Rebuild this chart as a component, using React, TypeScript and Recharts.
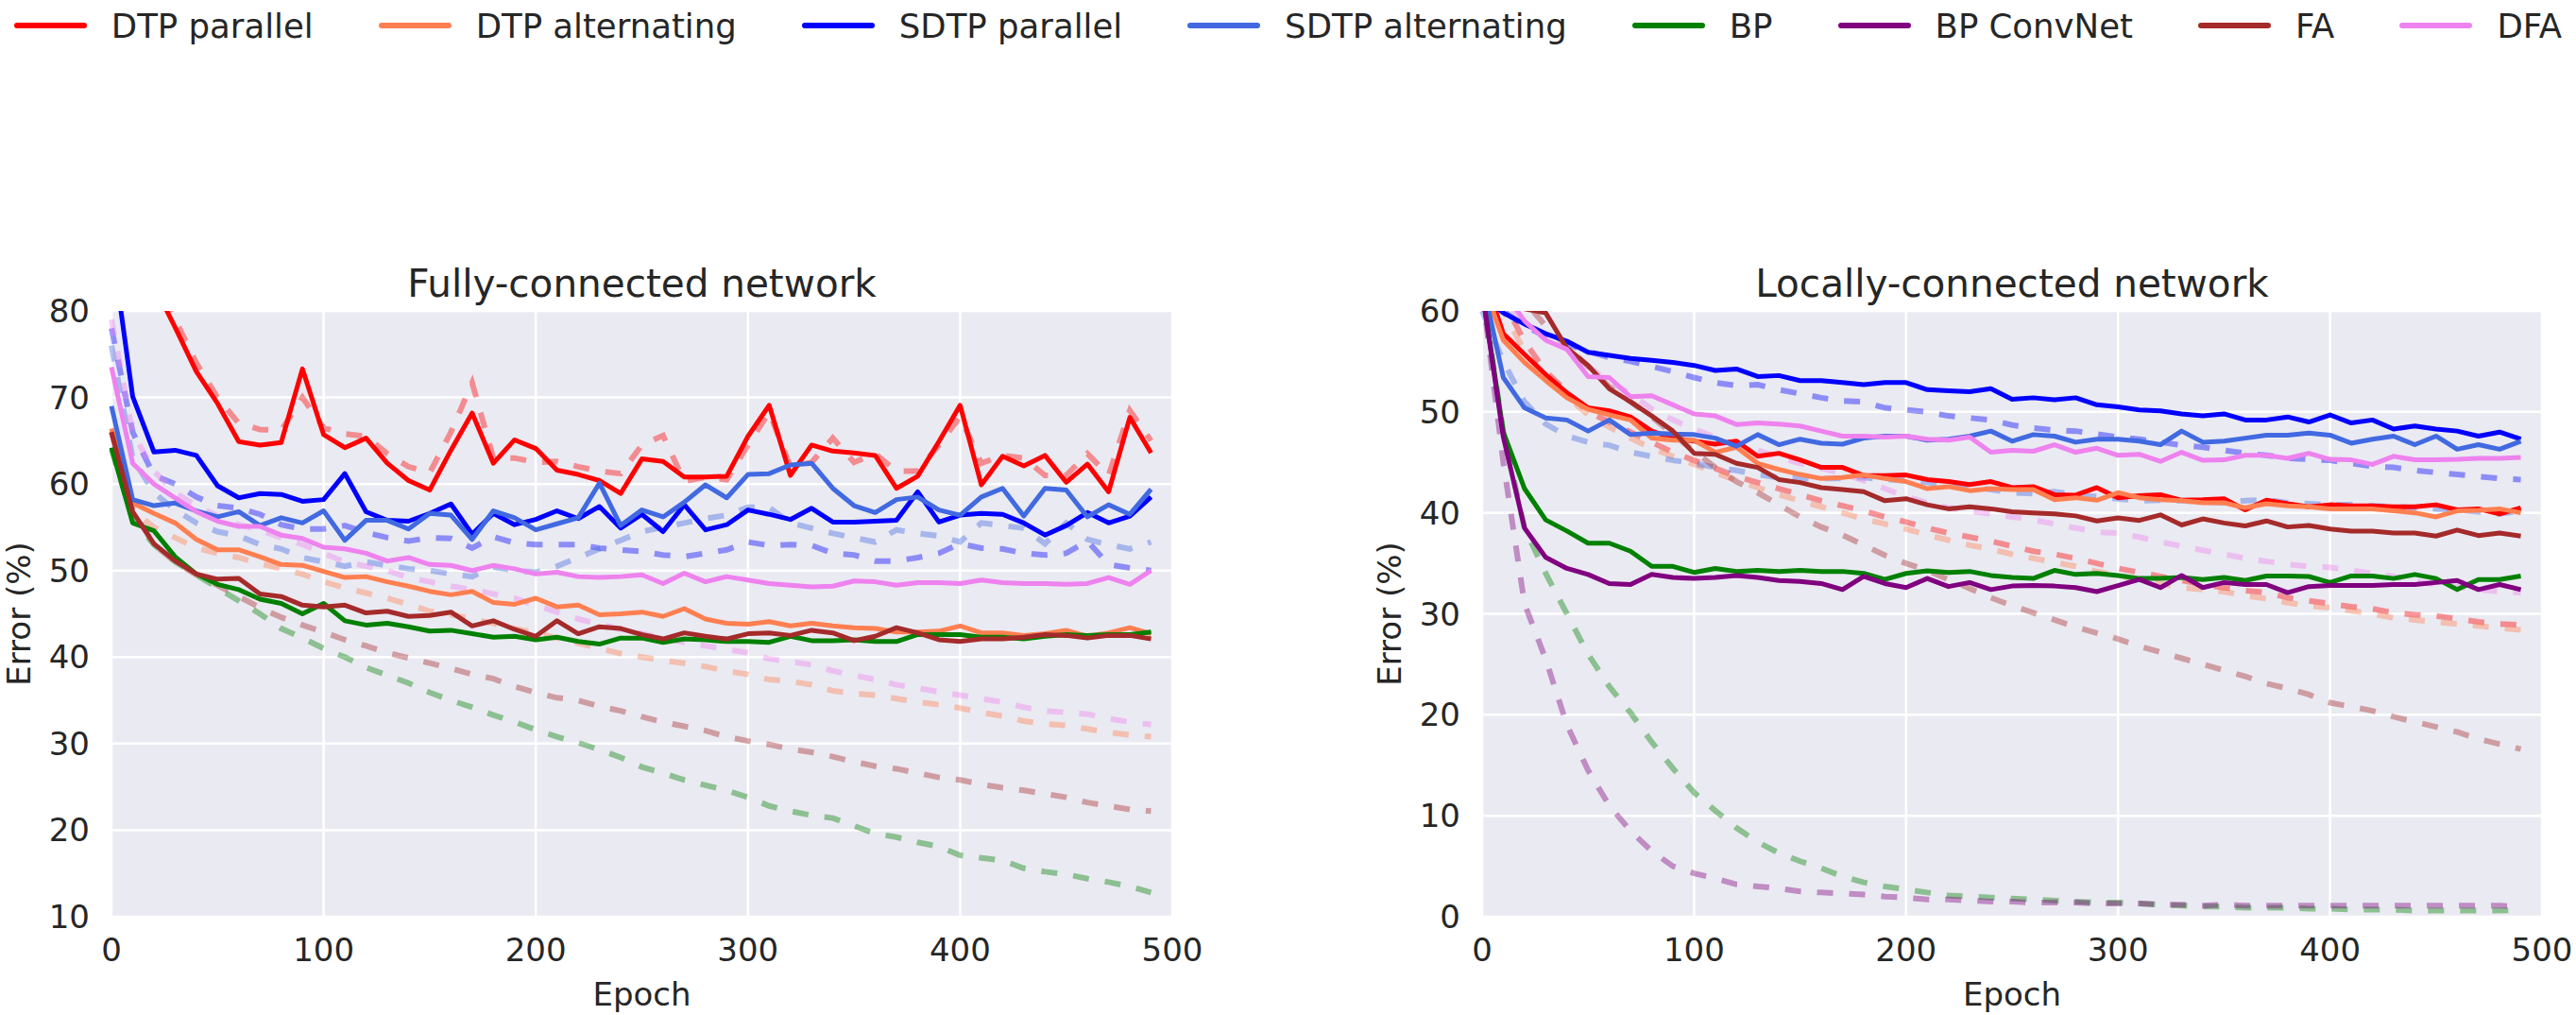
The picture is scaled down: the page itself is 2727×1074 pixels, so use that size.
import { LineChart, Line, XAxis, YAxis, CartesianGrid } from "recharts";

const epochs = [
  0, 10, 20, 30, 40, 50, 60, 70, 80, 90,
  100, 110, 120, 130, 140, 150, 160, 170, 180, 190,
  200, 210, 220, 230, 240, 250, 260, 270, 280, 290,
  300, 310, 320, 330, 340, 350, 360, 370, 380, 390,
  400, 410, 420, 430, 440, 450, 460, 470, 480, 490,
];

// ---- Fully-connected network: test error (solid) ----
const fcDtpPar = [
  92, 87, 83, 78.1, 73, 69.3, 64.9, 64.5, 64.8, 73.3,
  65.7, 64.2, 65.3, 62.4, 60.4, 59.3, 63.9, 68.2, 62.4, 65.1,
  64.1, 61.6, 61.1, 60.4, 58.9, 62.9, 62.6, 60.8, 60.8, 60.9,
  65.5, 69.1, 61.0, 64.5, 63.8, 63.6, 63.3, 59.5, 60.9, 64.9,
  69.1, 59.9, 63.2, 62.1, 63.3, 60.2, 62.3, 59.1, 67.7, 63.6,
];
const fcDtpAlt = [
  66.4, 57.8, 56.6, 55.5, 53.6, 52.4, 52.4, 51.6, 50.7, 50.6,
  49.9, 49.2, 49.3, 48.7, 48.2, 47.6, 47.2, 47.6, 46.3, 46.1,
  46.8, 45.8, 46, 44.9, 45.0, 45.2, 44.7, 45.6, 44.4, 43.9,
  43.8, 44.1, 43.6, 43.9, 43.6, 43.4, 43.3, 42.9, 42.9, 43.0,
  43.6, 42.8, 42.8, 42.5, 42.7, 43.1, 42.4, 42.8, 43.4, 42.7,
];
const fcSdtpPar = [
  88, 70.1, 63.7, 63.9, 63.3, 59.8, 58.4, 58.9, 58.8, 58,
  58.2, 61.2, 56.8, 55.8, 55.7, 56.6, 57.7, 54.2, 56.6, 55.3,
  55.9, 56.9, 56, 57.4, 54.9, 56.5, 54.5, 57.6, 54.7, 55.3,
  57, 56.5, 55.9, 57.2, 55.6, 55.6, 55.7, 55.8, 59.1, 55.6,
  56.4, 56.6, 56.5, 55.5, 54.1, 55.2, 56.7, 55.5, 56.3, 58.5,
];
const fcSdtpAlt = [
  69, 58.2, 57.5, 57.8, 56.9, 56.2, 56.8, 55.2, 56.1, 55.5,
  56.9, 53.5, 55.8, 55.8, 54.8, 56.6, 56.4, 53.6, 56.9, 56.1,
  54.7, 55.4, 56.1, 60.1, 55.2, 57, 56.2, 57.9, 59.9, 58.4,
  61.1, 61.2, 62.2, 62.4, 59.5, 57.5, 56.7, 58.2, 58.5, 57,
  56.4, 58.5, 59.5, 56.3, 59.5, 59.3, 56.2, 57.6, 56.5, 59.4,
];
const fcBp = [
  64.2, 55.5, 54.6, 51.6, 49.6, 48.4, 47.8, 46.7, 46.2, 45,
  46.2, 44.2, 43.7, 43.9, 43.5, 43, 43.1, 42.7, 42.3, 42.4,
  42, 42.3, 41.8, 41.5, 42.2, 42.2, 41.7, 42.1, 42.0, 41.8,
  41.8, 41.7, 42.4, 41.9, 41.9, 42.0, 41.8, 41.8, 42.6, 42.6,
  42.6, 42.3, 42.3, 42.1, 42.4, 42.6, 42.5, 42.6, 42.6, 42.9,
];
const fcFa = [
  66, 56.8, 53.1, 51.1, 49.6, 49, 49.1, 47.3, 47, 46,
  45.8, 46, 45.1, 45.3, 44.7, 44.8, 45.2, 43.6, 44.2, 43.2,
  42.4, 44.2, 42.7, 43.5, 43.3, 42.6, 42.1, 42.8, 42.4, 42.1,
  42.7, 42.8, 42.5, 43.1, 42.8, 41.9, 42.4, 43.4, 42.8, 42,
  41.8, 42.1, 42.1, 42.3, 42.6, 42.5, 42.2, 42.5, 42.5, 42.1,
];
const fcDfa = [
  73.5, 62.4, 60, 58.4, 56.8, 55.7, 55.1, 55.1, 54.1, 53.7,
  52.7, 52.5, 52, 51.1, 51.5, 50.7, 50.6, 50, 50.6, 50.2,
  49.6, 49.8, 49.3, 49.2, 49.3, 49.5, 48.5, 49.7, 48.7, 49.3,
  48.9, 48.5, 48.3, 48.1, 48.2, 48.8, 48.7, 48.3, 48.6, 48.6,
  48.5, 48.9, 48.6, 48.5, 48.5, 48.4, 48.5, 49.2, 48.4, 50,
];

// ---- Fully-connected network: training error (dashed) ----
const fcDtpParTrain = [
  95, 89, 84, 79, 74, 70, 67, 66.3, 66.2, 70,
  66.5, 65.8, 65.5, 63.5, 62, 61.3, 66, 71.7, 63, 63,
  62.5, 62.6, 62, 61.5, 61.2, 64.5, 65.6, 60.3, 60.8, 60.5,
  64.5, 68.3, 62, 62.5, 65.3, 62.5, 63.5, 61.5, 61.5, 64.5,
  67.8, 62.4, 63.3, 63, 61, 61, 63.5, 61, 68.5, 65,
];
const fcDtpAltTrain = [
  66, 57, 55, 53.8, 52.6, 52, 51.5, 50.8, 50.2, 49.6,
  48.7, 48, 47.4, 46.8, 46.1, 45.3, 44.9, 44.4, 43.9, 43.3,
  42.8, 42.2, 41.6, 41, 40.4, 40, 39.6, 39.3, 38.9, 38.4,
  38, 37.4, 37.2, 36.8, 36.1, 35.8, 35.6, 35.2, 34.8, 34.5,
  34.1, 33.6, 33.2, 32.6, 32.3, 32.1, 31.7, 31.3, 31, 30.8,
];
const fcSdtpParTrain = [
  78, 66, 61, 60, 58.5, 57.5, 57.2, 56.5, 55.3, 54.8,
  54.8, 55.2, 54.4, 53.8, 53.4, 53.8, 53.7, 52.6, 53.9, 53.2,
  53, 53, 53, 52.6, 52.4, 52.2, 51.8, 51.6, 52, 52.4,
  53.3, 52.9, 53, 52.9, 52, 51.8, 51.1, 51.1, 51.5, 52,
  53.1, 52.6, 52.5, 52, 51.8, 52, 53.4, 50.7, 50.3, 50,
];
const fcSdtpAltTrain = [
  76, 63, 59, 57, 55.5, 54.5, 54, 53, 52.5, 51.5,
  51, 50.5, 51, 50.6, 50.2, 50, 49.6, 49.3, 50.4, 50,
  49.8, 50.5, 51.5, 52.5, 53.5, 54.5, 55, 55.5, 56, 56.4,
  57.3, 57.3, 55.5, 54.9, 54.3, 53.8, 53.3, 54.7, 54.3, 54,
  53.3, 55.5, 55.2, 54.9, 53.1, 55.5, 53.6, 53, 52.5, 53.3,
];
const fcBpTrain = [
  64, 56, 53, 51, 49.5, 48, 46.5, 45, 43.3, 42.2,
  41, 40, 38.8, 37.9, 37, 35.9, 35, 34.2, 33.3, 32.5,
  31.6, 30.8, 30.1, 29.3, 28.4, 27.3, 26.6, 25.8, 25.2, 24.6,
  23.8, 22.8, 22.2, 21.7, 21.4, 20.5, 19.6, 19.2, 18.6, 18.1,
  17.1, 16.8, 16.5, 15.6, 15.2, 14.9, 14.4, 14, 13.5, 12.8,
];
const fcFaTrain = [
  66, 57, 53, 51, 49.5, 48.3, 47, 45.7, 44.6, 43.7,
  42.9, 42, 41.3, 40.5, 39.9, 39.3, 38.7, 38, 37.5, 36.6,
  35.9, 35.3, 35, 34.3, 33.8, 33.1, 32.5, 32, 31.5, 30.8,
  30.3, 29.9, 29.4, 29, 28.5, 27.9, 27.4, 27.1, 26.6, 26.1,
  25.8, 25.3, 24.9, 24.6, 24.2, 23.8, 23.2, 22.8, 22.4, 22.2,
];
const fcDfaTrain = [
  79, 66, 61.5, 59, 57.5, 56.3, 55.3, 54.7, 53.8, 53,
  52, 51, 50.5, 50, 49.2, 48.7, 48.2, 47.8, 47.3, 46.8,
  46, 45.2, 44.4, 43.8, 43.2, 42.7, 42.2, 41.7, 41.3, 40.9,
  40.5, 39.8, 39.5, 39.1, 38.4, 37.9, 37.4, 36.8, 36.4, 36,
  35.6, 35.2, 34.8, 34.2, 33.8, 33.6, 33.4, 32.9, 32.5, 32.2,
];

// ---- Locally-connected network: test error (solid) ----
const lcDtpPar = [
  64, 57.75, 55.7, 53.7, 51.9, 50.4, 50.1, 49.5, 48.1, 47.4,
  47.1, 46.8, 47.1, 45.6, 45.9, 45.25, 44.5, 44.5, 43.7, 43.7,
  43.75, 43.3, 43.1, 42.8, 43.1, 42.5, 42.6, 41.8, 41.75, 42.5,
  41.5, 41.7, 41.8, 41.25, 41.3, 41.4, 40.3, 41.25, 40.9, 40.6,
  40.8, 40.7, 40.7, 40.6, 40.6, 40.8, 40.3, 40.4, 39.9, 40.5,
];
const lcDtpAlt = [
  63, 57.1, 54.9, 53.1, 51.4, 50.25, 49.7, 49.2, 47.4, 47.2,
  47.2, 46, 46.5, 44.9, 44.3, 43.8, 43.4, 43.5, 43.75, 43.4,
  43.1, 42.4, 42.6, 42.2, 42.4, 42.3, 42.3, 41.3, 41.5, 41.25,
  42, 41.5, 41.3, 41.2, 41, 41, 40.5, 40.9, 40.7, 40.6,
  40.4, 40.4, 40.4, 40.2, 40, 39.6, 40.2, 40.25, 40.4, 40,
];
const lcSdtpPar = [
  61.5, 59.8, 58.7, 57.75, 57, 55.9, 55.6, 55.3, 55.1, 54.9,
  54.6, 54.1, 54.25, 53.5, 53.6, 53.1, 53.1, 52.9, 52.7, 52.9,
  52.9, 52.2, 52.1, 52, 52.3, 51.25, 51.4, 51.2, 51.4, 50.7,
  50.5, 50.2, 50.1, 49.8, 49.6, 49.8, 49.2, 49.2, 49.5, 49,
  49.7, 48.9, 49.2, 48.3, 48.6, 48.3, 48.1, 47.6, 48, 47.3,
];
const lcSdtpAlt = [
  63, 53.4, 50.4, 49.4, 49.2, 48.1, 49.2, 47.75, 47.9, 47.8,
  47.75, 47.4, 46.6, 47.75, 46.75, 47.3, 46.9, 46.8, 47.4, 47.6,
  47.6, 47.2, 47.3, 47.6, 48.1, 47.1, 47.75, 47.6, 47, 47.3,
  47.3, 47.1, 46.75, 48.1, 47, 47.1, 47.4, 47.7, 47.7, 47.9,
  47.7, 46.9, 47.3, 47.6, 46.75, 47.6, 46.3, 46.75, 46.3, 47.1,
];
const lcBp = [
  62, 48, 42.4, 39.3, 38.2, 37, 37, 36.2, 34.7, 34.7,
  34.1, 34.5, 34.2, 34.3, 34.2, 34.3, 34.2, 34.2, 34, 33.4,
  34, 34.25, 34.1, 34.2, 33.8, 33.6, 33.5, 34.3, 33.9, 34,
  33.8, 33.5, 33.5, 33.6, 33.4, 33.6, 33.3, 33.75, 33.75, 33.7,
  33.1, 33.75, 33.75, 33.5, 33.9, 33.5, 32.4, 33.4, 33.4, 33.75,
];
const lcBpConv = [
  62, 47.5, 38.5, 35.6, 34.5, 33.9, 33, 32.9, 33.9, 33.6,
  33.5, 33.6, 33.8, 33.6, 33.3, 33.2, 33, 32.4, 33.7, 33,
  32.6, 33.5, 32.7, 33.1, 32.4, 32.75, 32.8, 32.75, 32.6, 32.2,
  32.8, 33.4, 32.6, 33.8, 32.6, 33.1, 32.9, 32.9, 32.1, 32.7,
  32.8, 32.8, 32.8, 32.9, 32.9, 33.1, 33.3, 32.4, 32.9, 32.4,
];
const lcFa = [
  70, 64, 60.2, 59.8, 56.3, 54.6, 52.3, 51, 49.6, 48.1,
  45.9, 45.8, 44.9, 44.5, 43.3, 43, 42.5, 42.3, 42.1, 41.2,
  41.4, 40.8, 40.4, 40.6, 40.4, 40.1, 40, 39.9, 39.7, 39.2,
  39.5, 39.25, 39.8, 38.8, 39.4, 39, 38.7, 39.2, 38.6, 38.75,
  38.4, 38.2, 38.2, 38, 38, 37.7, 38.3, 37.75, 38, 37.7,
];
const lcDfa = [
  68, 62, 59, 57.1, 56.2, 53.5, 53.4, 51.5, 51.6, 50.7,
  49.8, 49.6, 48.75, 48.9, 48.8, 48.6, 48.1, 47.6, 47.6, 47.5,
  47.6, 47.3, 47.2, 47.5, 46, 46.2, 46.1, 46.75, 46, 46.4,
  45.7, 45.8, 45.1, 46, 45.2, 45.25, 45.7, 45.7, 45.4, 45.9,
  45.3, 45.25, 44.8, 45.6, 45.25, 45.25, 45.3, 45.4, 45.4, 45.5,
];

// ---- Locally-connected network: training error (dashed) ----
const lcDtpParTrain = [
  68, 61, 57, 54, 52, 50, 49, 48, 47, 46,
  45.2, 44.4, 43.6, 43, 42.4, 41.8, 41.2, 40.7, 40.2, 39.6,
  39.1, 38.5, 38, 37.6, 37.2, 36.7, 36.2, 35.9, 35.5, 35,
  34.5, 34.1, 33.7, 33.3, 32.9, 32.6, 32.3, 32.1, 31.6, 31.3,
  31, 30.7, 30.5, 30.1, 29.9, 29.8, 29.5, 29.2, 29, 28.9,
];
const lcDtpAltTrain = [
  67, 60, 56, 53.5, 51.5, 49.7, 48.5, 47.4, 46.4, 45.6,
  44.8, 44, 43.2, 42.5, 41.8, 41.2, 40.6, 40, 39.4, 38.9,
  38.4, 37.8, 37.3, 36.8, 36.4, 35.9, 35.5, 35.1, 34.7, 34.2,
  33.8, 33.4, 33, 32.6, 32.4, 32.2, 31.8, 31.5, 31.1, 30.8,
  30.6, 30.3, 30, 29.6, 29.4, 29.2, 29, 28.8, 28.6, 28.4,
];
const lcSdtpParTrain = [
  62, 60, 58.5, 57.5, 56.7, 56, 55.4, 55, 54.5, 54,
  53.4, 52.9, 52.6, 52.7, 52.2, 51.8, 51.4, 51.1, 51, 50.4,
  50.2, 50, 49.6, 49.4, 49.2, 48.7, 48.4, 48.2, 48.1, 47.8,
  47.5, 47.3, 47, 46.7, 46.5, 46.2, 45.9, 45.7, 45.4, 45.3,
  45.2, 44.9, 44.6, 44.5, 44.2, 44, 43.8, 43.6, 43.4, 43.3,
];
const lcSdtpAltTrain = [
  60, 55, 51, 48.8, 47.6, 47, 46.7, 46, 45.6, 45.2,
  44.9, 44.5, 44.2, 43.8, 43.5, 43.4, 43.4, 43.4, 43.5, 43.3,
  43.2, 43, 42.8, 42.6, 42.3, 42, 41.9, 42.1, 41.8, 41.6,
  41.4, 41.2, 41.25, 41.2, 41.1, 41, 41.2, 41.3, 41, 40.9,
  40.8, 40.8, 40.7, 40.6, 40.5, 40.4, 40.3, 40.1, 39.9, 40.2,
];
const lcBpTrain = [
  62, 48, 38.5, 34, 30, 26, 22.8, 20.2, 17.3, 14.7,
  12.3, 10.5, 8.8, 7.4, 6.3, 5.5, 4.8, 4, 3.4, 3,
  2.7, 2.4, 2.1, 2, 1.9, 1.8, 1.7, 1.6, 1.5, 1.4,
  1.4, 1.3, 1.2, 1.1, 1, 1, 0.9, 0.9, 0.9, 0.8,
  0.8, 0.7, 0.7, 0.7, 0.6, 0.6, 0.6, 0.6, 0.6, 0.7,
];
const lcBpConvTrain = [
  62, 45, 31, 25.5, 19, 14.5, 11, 8.5, 6.5, 5,
  4.3, 3.8, 3.2, 3, 2.8, 2.5, 2.4, 2.3, 2.2, 2,
  1.9, 1.7, 1.7, 1.6, 1.5, 1.5, 1.4, 1.4, 1.4, 1.3,
  1.3, 1.3, 1.2, 1.2, 1.1, 1.2, 1.1, 1.1, 1.1, 1.1,
  1.1, 1.1, 1.1, 1.1, 1.1, 1.1, 1.1, 1.1, 1.1, 1,
];
const lcFaTrain = [
  68, 64, 61, 58.5, 56.5, 54.5, 52.5, 51, 49.5, 47.8,
  46.1, 44.5, 43.1, 42, 40.8, 39.6, 38.6, 37.8, 36.8, 35.8,
  35, 34.3, 33.4, 32.5, 31.6, 30.8, 30.1, 29.4, 28.7, 28.1,
  27.5, 26.8, 26.2, 25.6, 25, 24.4, 23.8, 23.1, 22.6, 22,
  21.2, 20.8, 20.4, 19.8, 19.3, 18.8, 18.3, 17.6, 17.1, 16.6,
];
const lcDfaTrain = [
  66, 61, 59, 57.5, 56.3, 54.5, 53, 51.8, 50.3, 49.2,
  48.3, 47.5, 46.8, 46.2, 45.5, 44.9, 44.4, 43.9, 43.2, 42.4,
  41.6, 41, 40.5, 40.2, 39.9, 39.6, 39.3, 38.9, 38.5, 38.1,
  38, 37.6, 37.1, 36.7, 36.3, 35.9, 35.5, 35.2, 34.9, 34.7,
  34.6, 34.3, 34, 33.7, 33.2, 32.9, 32.7, 32.4, 32.2, 32.1,
];

const epochTicks = [0, 100, 200, 300, 400, 500];
const fcTicks = [10, 20, 30, 40, 50, 60, 70, 80];
const lcTicks = [0, 10, 20, 30, 40, 50, 60];

const methods = [
  { key: "dtpPar", name: "DTP parallel", color: "#ff0000" },
  { key: "dtpAlt", name: "DTP alternating", color: "#ff7f50" },
  { key: "sdtpPar", name: "SDTP parallel", color: "#0000ff" },
  { key: "sdtpAlt", name: "SDTP alternating", color: "#4169e1" },
  { key: "bp", name: "BP", color: "#008000" },
  { key: "bpConv", name: "BP ConvNet", color: "#800080" },
  { key: "fa", name: "FA", color: "#a52a2a" },
  { key: "dfa", name: "DFA", color: "#ee82ee" },
];

type Series = Record<string, number[]>;

const fcTest: Series = { dtpPar: fcDtpPar, dtpAlt: fcDtpAlt, sdtpPar: fcSdtpPar, sdtpAlt: fcSdtpAlt, bp: fcBp, fa: fcFa, dfa: fcDfa };
const fcTrain: Series = { dtpPar: fcDtpParTrain, dtpAlt: fcDtpAltTrain, sdtpPar: fcSdtpParTrain, sdtpAlt: fcSdtpAltTrain, bp: fcBpTrain, fa: fcFaTrain, dfa: fcDfaTrain };
const lcTest: Series = { dtpPar: lcDtpPar, dtpAlt: lcDtpAlt, sdtpPar: lcSdtpPar, sdtpAlt: lcSdtpAlt, bp: lcBp, bpConv: lcBpConv, fa: lcFa, dfa: lcDfa };
const lcTrain: Series = { dtpPar: lcDtpParTrain, dtpAlt: lcDtpAltTrain, sdtpPar: lcSdtpParTrain, sdtpAlt: lcSdtpAltTrain, bp: lcBpTrain, bpConv: lcBpConvTrain, fa: lcFaTrain, dfa: lcDfaTrain };

function buildRows(test: Series, train: Series) {
  return epochs.map((epoch, i) => {
    const row: Record<string, number> = { epoch };
    Object.keys(test).forEach((k) => {
      row[k] = test[k][i];
      row[k + "Train"] = train[k][i];
    });
    return row;
  });
}

const FONT = "'DejaVu Sans', sans-serif";
const INK = "#262626";
const TOTAL_H = 1074;
const PLOT_TOP = 329;
const X_AXIS_H = 94;
const BOTTOM_PAD = 10;

type PanelProps = {
  left: number;
  width: number;
  yAxisWidth: number;
  rightPad: number;
  title: string;
  test: Series;
  train: Series;
  yDomain: [number, number];
  yTicks: number[];
  yLabelX: number;
};

function Panel({ left, width, yAxisWidth, rightPad, title, test, train, yDomain, yTicks, yLabelX }: PanelProps) {
  const rows = buildRows(test, train);
  const shown = methods.filter((m) => test[m.key]);
  const plotW = width - yAxisWidth - rightPad;
  const tickStyle = { fill: INK, fontSize: 34, fontFamily: FONT };

  const yLabel = (props: any) => {
    const vb = props.viewBox || {};
    const cy = vb.y + vb.height / 2;
    return (
      <text
        x={yLabelX}
        y={cy}
        transform={`rotate(-90 ${yLabelX} ${cy})`}
        textAnchor="middle"
        dominantBaseline="central"
        fill={INK}
        fontSize={34}
        fontFamily={FONT}
      >
        Error (%)
      </text>
    );
  };

  return (
    <div style={{ position: "absolute", left, top: 0, width, height: TOTAL_H }}>
      <div
        style={{
          position: "absolute",
          left: yAxisWidth,
          width: plotW,
          top: 276,
          textAlign: "center",
          fontSize: 40.5,
          lineHeight: "48px",
          color: INK,
          fontFamily: FONT,
        }}
      >
        {title}
      </div>
      <LineChart
        width={width}
        height={TOTAL_H}
        data={rows}
        margin={{ top: PLOT_TOP, right: rightPad, bottom: BOTTOM_PAD, left: 0 }}
      >
        <CartesianGrid fill="#eaeaf2" stroke="#ffffff" strokeWidth={2.5} />
        <XAxis
          dataKey="epoch"
          type="number"
          domain={[0, 500]}
          ticks={epochTicks}
          interval={0}
          axisLine={false}
          tickLine={false}
          tickSize={0}
          tickMargin={23}
          height={X_AXIS_H}
          tick={tickStyle}
          label={{ value: "Epoch", position: "insideBottom", offset: 0, fill: INK, fontSize: 34, fontFamily: FONT }}
        />
        <YAxis
          type="number"
          domain={yDomain}
          ticks={yTicks}
          interval={0}
          allowDataOverflow
          axisLine={false}
          tickLine={false}
          tickSize={0}
          tickMargin={23}
          width={yAxisWidth}
          tick={tickStyle}
          label={yLabel}
        />
        {shown.map((m) => (
          <Line
            key={m.key + "Train"}
            type="linear"
            dataKey={m.key + "Train"}
            stroke={m.color}
            strokeOpacity={0.4}
            strokeWidth={6}
            strokeDasharray="17 17"
            dot={false}
            activeDot={false}
            isAnimationActive={false}
          />
        ))}
        {shown.map((m) => (
          <Line
            key={m.key}
            type="linear"
            dataKey={m.key}
            stroke={m.color}
            strokeWidth={5}
            strokeLinejoin="round"
            dot={false}
            activeDot={false}
            isAnimationActive={false}
          />
        ))}
      </LineChart>
    </div>
  );
}

function TopLegend() {
  return (
    <div
      style={{
        position: "absolute",
        left: 0,
        top: 0,
        width: 2727,
        height: 54,
        display: "flex",
        justifyContent: "center",
        alignItems: "center",
        gap: 69,
        fontFamily: FONT,
        fontSize: 35.5,
        color: INK,
      }}
    >
      {methods.map((m) => (
        <div key={m.key} style={{ display: "flex", alignItems: "center", whiteSpace: "nowrap" }}>
          <span
            style={{ display: "inline-block", width: 77, height: 6, borderRadius: 3, background: m.color, marginRight: 26 }}
          />
          <span>{m.name}</span>
        </div>
      ))}
    </div>
  );
}

export default function App() {
  return (
    <div
      style={{
        position: "absolute",
        left: 0,
        top: 0,
        width: 2727,
        height: TOTAL_H,
        background: "#ffffff",
        fontFamily: FONT,
        overflow: "hidden",
      }}
    >
      <TopLegend />
      <Panel
        left={0}
        width={1300}
        yAxisWidth={118}
        rightPad={59}
        title="Fully-connected network"
        test={fcTest}
        train={fcTrain}
        yDomain={[10, 80]}
        yTicks={fcTicks}
        yLabelX={20}
      />
      <Panel
        left={1420}
        width={1307}
        yAxisWidth={149}
        rightPad={36}
        title="Locally-connected network"
        test={lcTest}
        train={lcTrain}
        yDomain={[0, 60]}
        yTicks={lcTicks}
        yLabelX={51}
      />
    </div>
  );
}
